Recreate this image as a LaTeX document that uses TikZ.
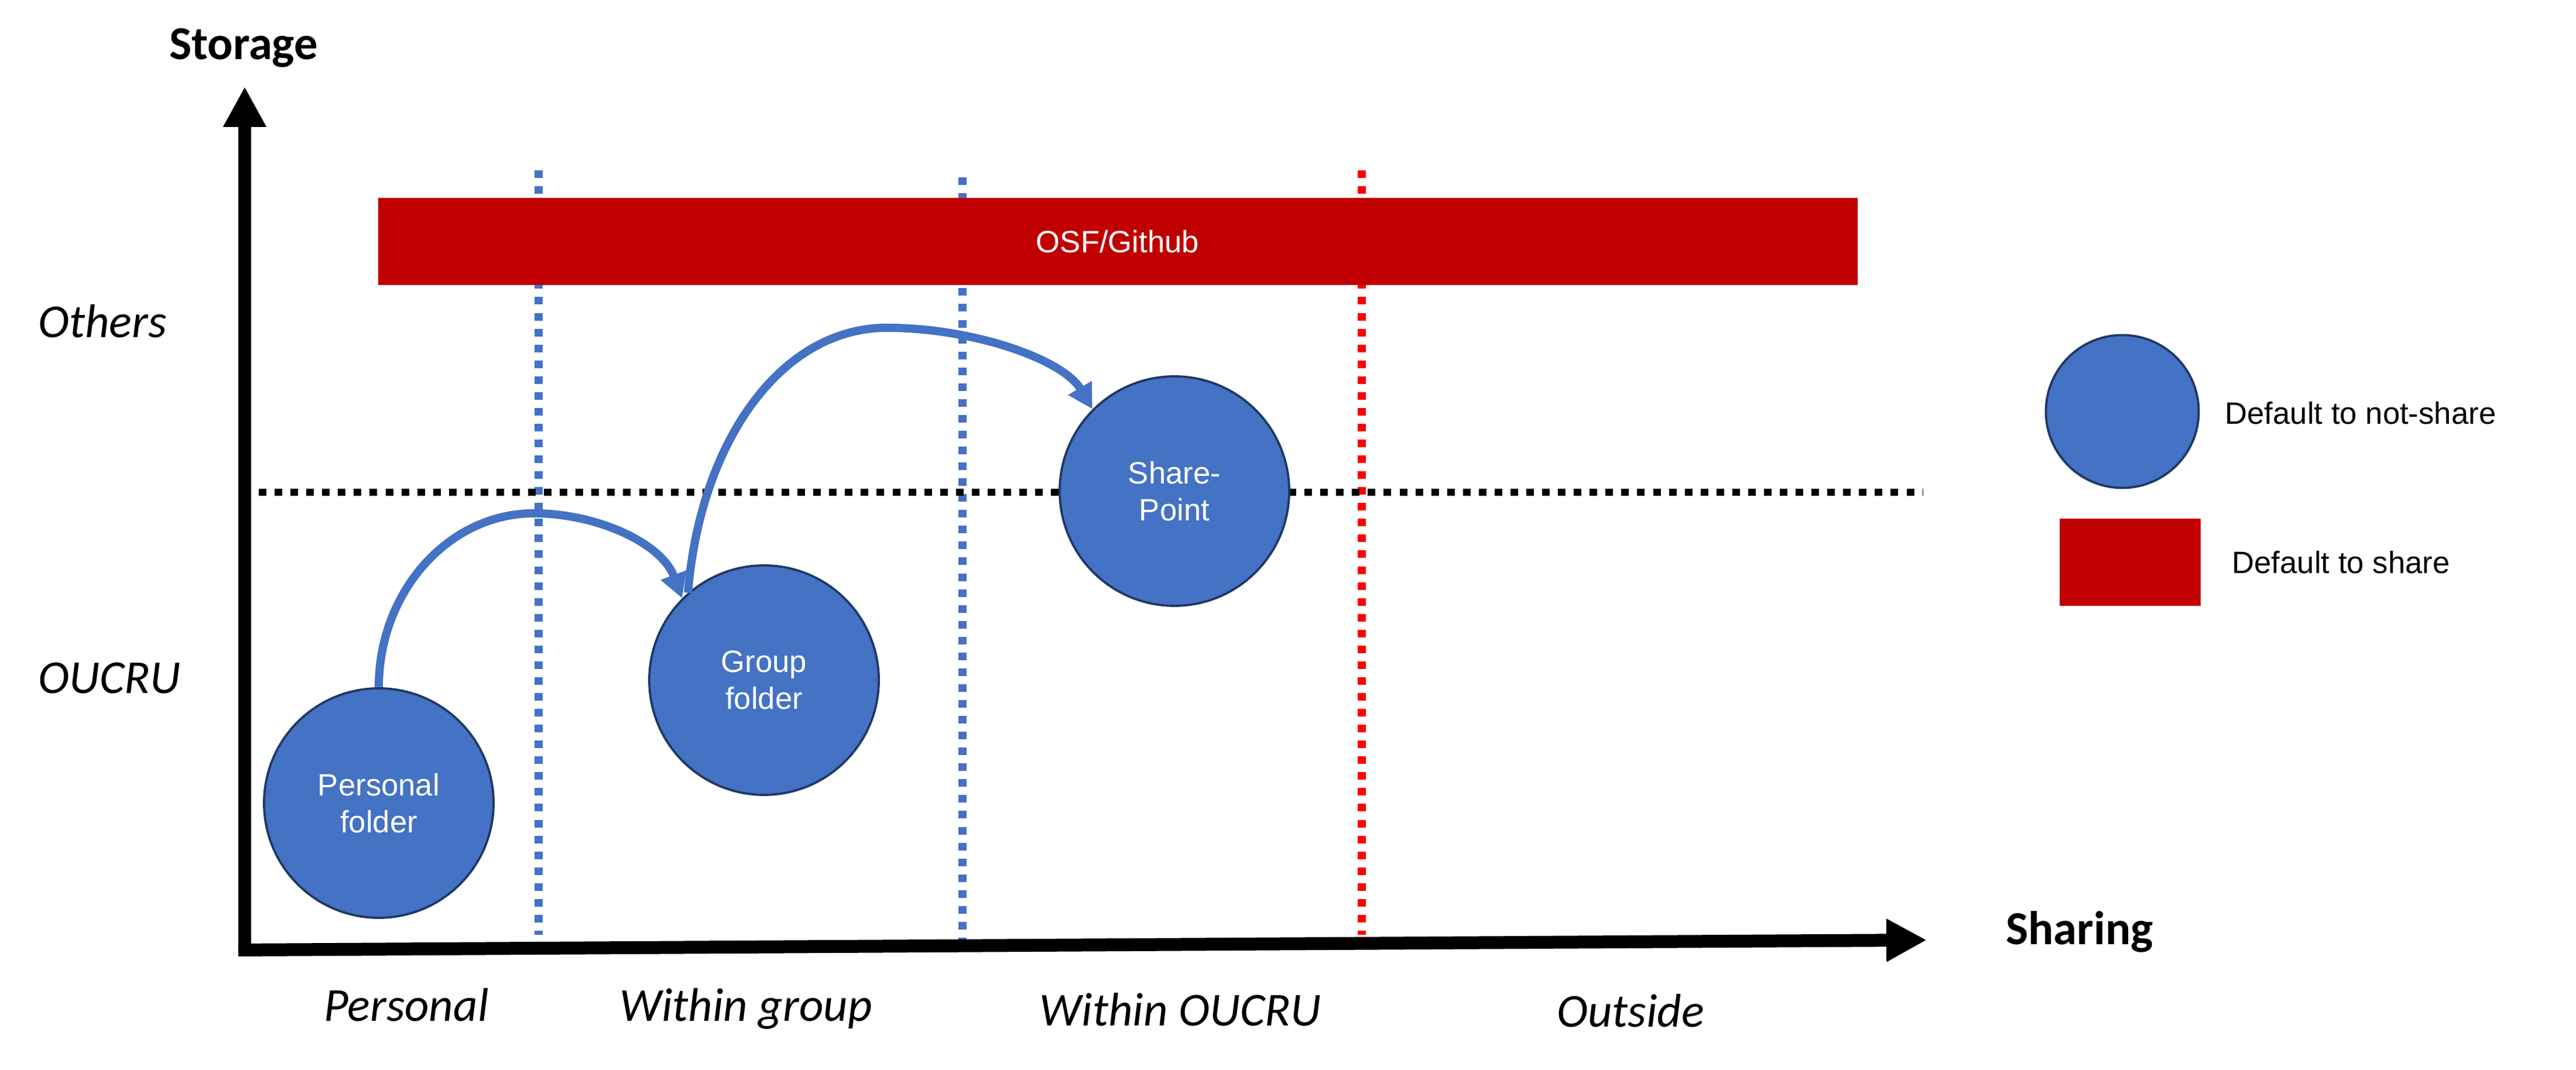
\documentclass[tikz,border=0pt]{standalone}
\usepackage{fontspec}
\setmainfont{Liberation Sans}
\newfontfamily\calibri{Carlito}
\usetikzlibrary{arrows.meta}
\definecolor{folderblue}{HTML}{4472C4}
\definecolor{folderedge}{HTML}{203864}
\definecolor{sharered}{HTML}{C00000}
\tikzset{
	folder/.style={circle, draw=folderedge, line width=1.1pt, fill=folderblue, text=white, align=center, inner sep=0pt, minimum size=3.92cm, font=\fontsize{15}{18}\selectfont},
	sharebox/.style={rectangle, fill=sharered, text=white, inner sep=0pt, font=\fontsize{15}{18}\selectfont},
	axis/.style={line width=0.22cm, -{Triangle[length=0.69cm, width=0.69cm]}},
	border/.style={line width=3.8pt, dash pattern=on 3.7pt off 4pt},
	level/.style={line width=3.6pt, dash pattern=on 3.7pt off 4pt},
	move/.style={line width=4pt, color=folderblue, -{Triangle[length=12pt, width=12.5pt]}},
	axislabel/.style={anchor=base, font=\calibri\bfseries\fontsize{23}{27}\selectfont},
	zone/.style={anchor=base, font=\calibri\itshape\fontsize{23}{27}\selectfont},
	legendtext/.style={anchor=base west, font=\fontsize{15}{18}\selectfont}
}

\begin{document}
\begin{tikzpicture}
		%%%%% FRAME %%%%%
		\useasboundingbox (0, 0) rectangle (44, 18.28);
		
		%%%%% SEPARATORS %%%%%
		\draw[border, color=folderblue] (9.20, 15.37) -- (9.20, 2.31);
		\draw[border, color=folderblue] (16.44, 15.25) -- (16.44, 2.19);
		\draw[border, color=red] (23.26, 15.37) -- (23.26, 2.31);
		\draw[level] (4.42, 9.87) -- (32.85, 9.87);
		
		%%%%% AXES %%%%%
		\coordinate (origin) at (4.18, 2.15);
		\coordinate (xstart) at (4.07, 2.05);
		\coordinate (xend) at (32.91, 2.22);
		\coordinate (yend) at (4.18, 16.80);
		\draw[axis] (origin) -- (yend);
		\draw[axis] (xstart) -- (xend);
		
		\node[axislabel] (storage) at (4.16, 17.26) {Storage};
		\node[axislabel] (sharing) at (35.52, 2.14) {Sharing};
		
		\node[zone, anchor=base west] (others) at (0.53, 12.51) {Others};
		\node[zone, anchor=base west] (oucru) at (0.53, 6.43) {OUCRU};
		
		\node[zone] (personal) at (6.94, 0.83) {Personal};
		\node[zone] (withingroup) at (12.74, 0.83) {Within group};
		\node[zone] (withinoucru) at (20.16, 0.75) {Within OUCRU};
		\node[zone] (outside) at (27.85, 0.73) {Outside};
		
		%%%%% STORAGE %%%%%
		\node[sharebox, minimum width=25.27cm, minimum height=1.49cm] (osf) at (19.09, 14.15) {OSF/Github};
		
		\node[folder] (personalfolder) at (6.47, 4.56) {Personal\\folder};
		\node[folder] (groupfolder) at (13.05, 6.66) {Group\\folder};
		\node[folder] (sharepoint) at (20.06, 9.89) {Share-\\Point};
		
		\draw[move] (personalfolder.north) .. controls (6.47, 8.17) and (7.66, 9.51) .. (9.12, 9.51)
			.. controls (10.2, 9.51) and (11.3, 9.0) .. (groupfolder.135);
		\draw[move] (groupfolder.131) .. controls (11.95, 10.67) and (13.30, 12.68) .. (15.15, 12.68)
			.. controls (16.6, 12.68) and (18.15, 12.15) .. (sharepoint.135);
		
		%%%%% LEGEND %%%%%
		\node[folder, minimum size=2.61cm] (keyfolder) at (36.25, 11.25) {};
		\node[legendtext] (keyfoldertext) at (37.88, 11.03) {Default to not-share};
		\node[sharebox, minimum width=2.41cm, minimum height=1.49cm] (keyshare) at (36.38, 8.67) {};
		\node[legendtext] (keysharetext) at (38.00, 8.48) {Default to share};
		
\end{tikzpicture}
\end{document}
